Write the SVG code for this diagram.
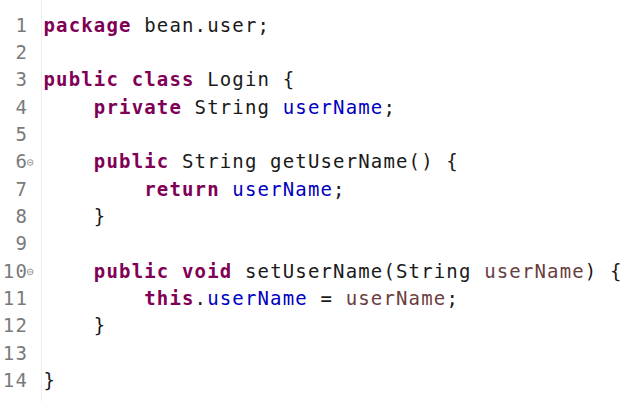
<svg xmlns="http://www.w3.org/2000/svg" width="638" height="401" viewBox="0 0 638 401">
<style>
text{font-family:"DejaVu Sans Mono","Liberation Mono",monospace;font-size:19px;letter-spacing:1.15px;white-space:pre}
.c{fill:#1a1a1a}
.ln{fill:#7a7a7a}
.k{fill:#7f0055;font-weight:bold}
.f{fill:#0000c0}
.p{fill:#6a3e3e}
.fold{fill:none;stroke:#8a8a8a;stroke-width:0.9}
</style>
<rect width="638" height="401" fill="#ffffff"/>
<line x1="41.5" y1="0" x2="41.5" y2="401" stroke="#eeeeee" stroke-width="1"/>
<g id="gutter">
<text class="ln" x="15.5" y="31.5">1</text>
<text class="ln" x="15.5" y="58.85">2</text>
<text class="ln" x="15.5" y="86.2">3</text>
<text class="ln" x="15.5" y="113.55">4</text>
<text class="ln" x="15.5" y="140.9">5</text>
<text class="ln" x="15.5" y="168.25">6</text>
<text class="ln" x="15.5" y="195.6">7</text>
<text class="ln" x="15.5" y="222.95">8</text>
<text class="ln" x="15.5" y="250.3">9</text>
<text class="ln" x="2.85" y="277.65">10</text>
<text class="ln" x="2.85" y="305">11</text>
<text class="ln" x="2.85" y="332.35">12</text>
<text class="ln" x="2.85" y="359.7">13</text>
<text class="ln" x="2.85" y="387.05">14</text>
<g class="fold"><circle cx="30.2" cy="162.5" r="2.8"/><line x1="28.6" y1="162.5" x2="31.8" y2="162.5"/></g>
<g class="fold"><circle cx="30.2" cy="271.9" r="2.8"/><line x1="28.6" y1="271.9" x2="31.8" y2="271.9"/></g>
</g>
<g id="code">
<text class="c" x="43.5" y="31.5"><tspan class="k">package</tspan> bean.user;</text>
<text class="c" x="43.5" y="86.2"><tspan class="k">public</tspan> <tspan class="k">class</tspan> Login {</text>
<text class="c" x="43.5" y="113.55">    <tspan class="k">private</tspan> String <tspan class="f">userName</tspan>;</text>
<text class="c" x="43.5" y="168.25">    <tspan class="k">public</tspan> String getUserName() {</text>
<text class="c" x="43.5" y="195.6">        <tspan class="k">return</tspan> <tspan class="f">userName</tspan>;</text>
<text class="c" x="43.5" y="222.95">    }</text>
<text class="c" x="43.5" y="277.65">    <tspan class="k">public</tspan> <tspan class="k">void</tspan> setUserName(String <tspan class="p">userName</tspan>) {</text>
<text class="c" x="43.5" y="305">        <tspan class="k">this</tspan>.<tspan class="f">userName</tspan> = <tspan class="p">userName</tspan>;</text>
<text class="c" x="43.5" y="332.35">    }</text>
<text class="c" x="43.5" y="387.05">}</text>
</g>
</svg>
